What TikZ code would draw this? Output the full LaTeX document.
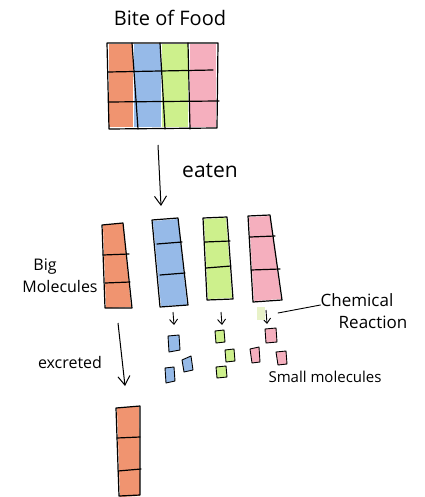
\documentclass[tikz,border=0pt]{standalone}
\usepackage{fontspec}
\setmainfont{Open Sans}
\usetikzlibrary{arrows.meta}
\definecolor{crOrange}{RGB}{240,148,112}
\definecolor{crBlue}{RGB}{150,186,232}
\definecolor{crGreen}{RGB}{205,240,140}
\definecolor{crPink}{RGB}{245,175,190}
\definecolor{crPale}{RGB}{232,242,200}
\tikzset{
  ink/.style={draw=black, line width=1.2pt, line join=round, line cap=round},
  thinink/.style={draw=black, line width=0.9pt, line cap=round},
  bigarrow/.style={draw=black, line width=1pt, -{Straight Barb[length=9pt,width=12pt]}},
  smallarrow/.style={draw=black, line width=0.9pt, -{Straight Barb[length=5pt,width=8pt]}},
  hand/.style={font=\fontsize{16}{18}\selectfont, inner sep=0pt},
  piece/.style={ink, line width=0.9pt},
}
\begin{document}
\begin{tikzpicture}[x=1pt,y=-1pt]
\useasboundingbox (0,0) rectangle (424,497);

% ---- bite of food ----
\node[hand, font=\fontsize{20}{22}\selectfont] (title) at (170,18) {Bite of Food};
\fill[crOrange] (109,44) rectangle (133,127);
\fill[crBlue] (134,44) rectangle (161,127);
\fill[crGreen] (162,44) rectangle (188,127);
\fill[crPink] (190,44) rectangle (216,127);
\draw[ink] (107,43) -- (218,43) -- (217,128) -- (109,129) -- cycle;
\draw[ink] (132,43) -- (138,129);
\draw[ink] (160,43) -- (165,129);
\draw[ink] (188,43) -- (190,129);
\draw[ink] (108,72) -- (213,70);
\draw[ink] (108,102) -- (219,101);
\coordinate (biteBottom) at (158,145);

% ---- eaten ----
\coordinate (eatenTip) at (161,206);
\draw[bigarrow] (biteBottom) -- (eatenTip);
\node[hand, font=\fontsize{21}{24}\selectfont] (eaten) at (210,171) {eaten};

% ---- big molecules ----
% orange
\fill[crOrange] (103,225) -- (123,223) -- (131,307) -- (106,308) -- cycle;
\draw[ink] (102,225) -- (123,223) -- (132,308) -- (105,308) -- cycle;
\draw[ink] (103,255) -- (129,254);
\draw[ink] (105,283) -- (130,282);
% blue
\fill[crBlue] (153,221) -- (178,219) -- (187,305) -- (161,306) -- cycle;
\draw[ink] (152,220) -- (178,218) -- (188,305) -- (160,307) -- cycle;
\draw[ink] (157,244) -- (182,242);
\draw[ink] (160,275) -- (185,273);
% green
\fill[crGreen] (204,219) -- (226,218) -- (232,298) -- (208,299) -- cycle;
\draw[ink] (203,218) -- (227,217) -- (233,299) -- (207,300) -- cycle;
\draw[ink] (205,242) -- (230,241);
\draw[ink] (206,268) -- (231,266);
% pink
\fill[crPink] (249,217) -- (270,216) -- (281,299) -- (254,301) -- cycle;
\draw[ink] (248,216) -- (270,215) -- (282,300) -- (253,302) -- cycle;
\draw[ink] (250,237) -- (275,236);
\draw[ink] (251,270) -- (280,269);

\node[hand] (big) at (45,267) {Big};
\node[hand] (molec) at (60,286) {Molecules};

% ---- reaction arrows ----
\coordinate (bA) at (173,312);  \coordinate (bB) at (174,325);
\coordinate (gA) at (221,312);  \coordinate (gB) at (222,325);
\coordinate (pA) at (266,310);  \coordinate (pB) at (267,324);
\draw[smallarrow] (bA) -- (bB);
\draw[smallarrow] (gA) -- (gB);
\draw[smallarrow] (pA) -- (pB);
\fill[crPale] (257,307) rectangle (265,320);

\node[hand, font=\fontsize{17}{20}\selectfont] (chem) at (357,300) {Chemical};
\node[hand, font=\fontsize{17}{20}\selectfont] (react) at (373,322) {Reaction};
\draw[thinink] (278,313) -- (chem.west |- 0,305);

% ---- small molecules ----
% blue pieces
\filldraw[piece, fill=crBlue] (168,336) -- (179,335) -- (180,350) -- (169,352) -- cycle;
\filldraw[piece, fill=crBlue] (182,360) -- (191,356) -- (193,370) -- (184,372) -- cycle;
\filldraw[piece, fill=crBlue] (165,368) -- (174,367) -- (175,381) -- (166,383) -- cycle;
% green pieces
\filldraw[piece, fill=crGreen] (215,331) -- (224,330) -- (225,342) -- (216,343) -- cycle;
\filldraw[piece, fill=crGreen] (225,350) -- (234,349) -- (235,361) -- (226,362) -- cycle;
\filldraw[piece, fill=crGreen] (216,367) -- (226,366) -- (227,377) -- (217,378) -- cycle;
% pink pieces
\filldraw[piece, fill=crPink] (265,329) -- (276,328) -- (277,342) -- (266,343) -- cycle;
\filldraw[piece, fill=crPink] (250,349) -- (259,347) -- (260,362) -- (252,363) -- cycle;
\filldraw[piece, fill=crPink] (276,352) -- (286,351) -- (287,364) -- (278,365) -- cycle;

\node[hand, font=\fontsize{15}{18}\selectfont] (small) at (325,377) {Small molecules};

% ---- excreted ----
\coordinate (exA) at (118,323);
\coordinate (exB) at (125,386);
\draw[bigarrow] (exA) -- (exB);
\node[hand] (excr) at (70,362) {excreted};

% leftover molecule
\fill[crOrange] (117,408) -- (139,406) -- (140,496) -- (120,497) -- cycle;
\draw[ink] (116,408) -- (140,406) -- (140,495) -- (119,496) -- cycle;
\draw[ink] (117,438) -- (140,437);
\draw[ink] (118,471) -- (141,469);
\end{tikzpicture}
\end{document}
